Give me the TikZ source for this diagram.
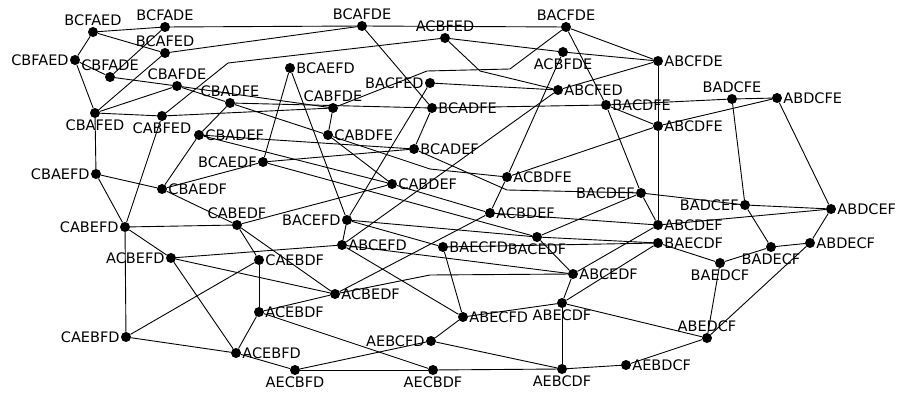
\documentclass[tikz,border=0pt]{standalone}
\usepackage{fontspec}
\setmainfont{DejaVu Sans}
\newcommand\permnode[4]{\node[dot,label={[lab]#4:#1}] (#1) at (#2,#3) {};}
\begin{document}
\begin{tikzpicture}[x=1pt,y=-1pt,
  dot/.style={circle,fill=black,inner sep=0pt,minimum size=10pt},
  lab/.style={font=\fontsize{14.5}{15}\selectfont,inner sep=0.5pt,label distance=0.5pt},
  edge/.style={line width=0.9pt}]
\useasboundingbox (0,0) rectangle (898,403);
\permnode{BCFAED}{93}{32}{above}
\permnode{BCFADE}{165}{27}{above}
\permnode{BCAFED}{165}{53}{above}
\permnode{CBFAED}{75}{60}{left}
\permnode{CBFADE}{110}{77}{above}
\permnode{CBAFDE}{177}{86}{above}
\permnode{CBADFE}{230}{103}{above}
\permnode{CBAFED}{95}{113}{below}
\permnode{CABFED}{162}{116}{below}
\permnode{CBADEF}{199}{135}{right}
\permnode{BCAEFD}{290}{68}{right}
\permnode{BCAFDE}{362}{26}{above}
\permnode{ACBFED}{445}{38}{above}
\permnode{BACFDE}{566}{27}{above}
\permnode{ACBFDE}{563}{52}{below}
\permnode{ABCFDE}{658}{61}{right}
\permnode{BACFED}{430}{83}{left}
\permnode{CABFDE}{333}{108}{above}
\permnode{BCADFE}{432}{108}{right}
\permnode{ABCFED}{558}{90}{right}
\permnode{BACDFE}{606}{105}{right}
\permnode{BADCFE}{732}{99}{above}
\permnode{ABDCFE}{777}{98}{right}
\permnode{ABCDFE}{658}{126}{right}
\permnode{CABDFE}{328}{135}{right}
\permnode{BCADEF}{414}{149}{right}
\permnode{BCAEDF}{263}{162}{left}
\permnode{CBAEFD}{96}{174}{left}
\permnode{CBAEDF}{162}{189}{right}
\permnode{CABDEF}{392}{184}{right}
\permnode{ACBDFE}{507}{177}{right}
\permnode{BACDEF}{641}{193}{left}
\permnode{CABEDF}{237}{225}{above}
\permnode{CABEFD}{125}{227}{left}
\permnode{ACBDEF}{490}{213}{right}
\permnode{BACEFD}{347}{220}{left}
\permnode{BADCEF}{745}{205}{left}
\permnode{ABDCEF}{831}{209}{right}
\permnode{ABCDEF}{658}{225}{right}
\permnode{ABCEFD}{342}{245}{right}
\permnode{BAECFD}{443}{247}{right}
\permnode{BACEDF}{537}{237}{below}
\permnode{BAECDF}{658}{243}{right}
\permnode{ABDECF}{810}{243}{right}
\permnode{BADECF}{771}{247}{below}
\permnode{ACBEFD}{171}{258}{left}
\permnode{CAEBDF}{259}{260}{right}
\permnode{BAEDCF}{720}{263}{below}
\permnode{ABCEDF}{573}{274}{right}
\permnode{ACBEDF}{335}{294}{right}
\permnode{ACEBDF}{259}{312}{right}
\permnode{ABECDF}{562}{303}{below}
\permnode{ABECFD}{463}{317}{right}
\permnode{AEBCFD}{431}{341}{left}
\permnode{ABEDCF}{707}{338}{above}
\permnode{CAEBFD}{126}{337}{left}
\permnode{ACEBFD}{236}{353}{right}
\permnode{AECBFD}{295}{370}{below}
\permnode{AECBDF}{433}{370}{below}
\permnode{AEBCDF}{562}{369}{below}
\permnode{AEBDCF}{626}{365}{right}
\foreach \a/\b in {BCFAED/CBFAED,BCFAED/BCAFED,BCFAED/BCFADE,BCFADE/CBFADE,BCFADE/BCAFDE,
 BCAFED/CBAFED,BCAFED/BCAFDE,CBFAED/CBAFED,CBFAED/CBFADE,
 CBFADE/CBAFDE,CBAFDE/CABFDE,CBAFDE/CBADFE,CBAFDE/CBAFED,CBADFE/BCADFE,
 CBADFE/CABDFE,CBADFE/CBADEF,CBAFED/CABFED,CBAFED/CBAEFD,CABFED/CABEFD,CABFED/CABFDE,
 CBADEF/BCADEF,CBADEF/CABDEF,CBADEF/CBAEDF,BCAEFD/BACEFD,BCAEFD/BCAEDF,
 BCAFDE/BACFDE,BCAFDE/BCADFE,ACBFED/ACBFDE,BACFDE/ABCFDE,BACFDE/BACDFE,
 ACBFDE/ABCFDE,ACBFDE/ACBDFE,ABCFDE/ABCDFE,ABCFDE/ABCFED,BACFED/ABCFED,
 BACFED/BACEFD,CABFDE/CABDFE,BCADFE/BACDFE,BCADFE/BCADEF,ABCFED/ABCEFD,BACDFE/ABCDFE,
 BACDFE/BADCFE,BACDFE/BACDEF,BADCFE/ABDCFE,BADCFE/BADCEF,ABDCFE/ABCDFE,ABDCFE/ABDCEF,
 ABCDFE/ACBDFE,ABCDFE/ABCDEF,CABDFE/CABDEF,BCADEF/BCAEDF,BCAEDF/CBAEDF,
 BCAEDF/BACEDF,CBAEFD/CABEFD,CBAEFD/CBAEDF,CBAEDF/CABEDF,CABDEF/ACBDEF,CABDEF/CABEDF,
 ACBDFE/ACBDEF,BACDEF/ABCDEF,BACDEF/BADCEF,BACDEF/BACEDF,CABEDF/ACBEDF,CABEDF/CAEBDF,
 CABEDF/CABEFD,CABEFD/ACBEFD,CABEFD/CAEBFD,ACBDEF/ABCDEF,ACBDEF/ACBEDF,BACEFD/ABCEFD,
 BACEFD/BAECFD,BACEFD/BACEDF,BADCEF/ABDCEF,BADCEF/BADECF,ABDCEF/ABCDEF,ABDCEF/ABDECF,
 ABCDEF/ABCEDF,ABCEFD/ACBEFD,ABCEFD/ABECFD,ABCEFD/ABCEDF,BAECFD/ABECFD,BAECFD/BAECDF,
 BACEDF/ABCEDF,BACEDF/BAECDF,BAECDF/ABECDF,BAECDF/BAEDCF,ABDECF/BADECF,ABDECF/ABEDCF,
 BADECF/BAEDCF,ACBEFD/ACEBFD,ACBEFD/ACBEDF,CAEBDF/ACEBDF,CAEBDF/CAEBFD,BAEDCF/ABEDCF,
 ABCEDF/ABECDF,ACBEDF/ACEBDF,ACEBDF/AECBDF,ACEBDF/ACEBFD,ABECDF/AEBCDF,
 ABECDF/ABEDCF,ABECDF/ABECFD,ABECFD/AEBCFD,AEBCFD/AECBFD,AEBCFD/AEBCDF,ABEDCF/AEBDCF,
 CAEBFD/ACEBFD,ACEBFD/AECBFD,AECBFD/AECBDF,AECBDF/AEBCDF,AEBCDF/AEBDCF}
 {\draw[edge] (\a) -- (\b);}
\draw[edge] (CABFED) -- (228,63) -- (ACBFED);
\draw[edge] (ACBFED) -- (480,71) -- (ABCFED);
\draw[edge] (CABFDE) -- (427,71) -- (510,69) -- (BACFDE);
\draw[edge] (BCADEF) -- (507,190) -- (BACDEF);
\draw[edge] (CABDFE) -- (430,169) -- (ACBDFE);
\draw[edge] (ACBEDF) -- (430,275) -- (ABCEDF);
\end{tikzpicture}
\end{document}
